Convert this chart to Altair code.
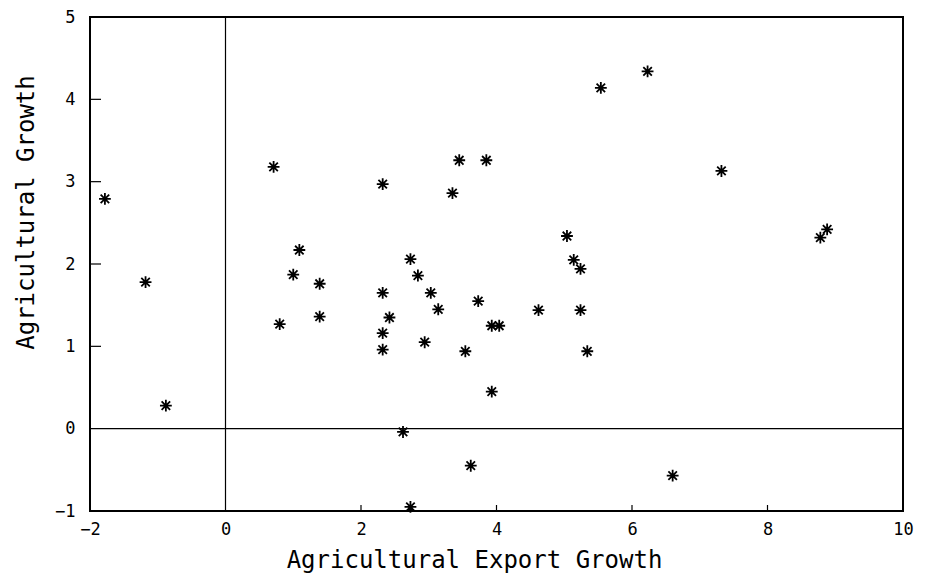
import altair as alt
import pandas as pd

# Data
export_growth = [-1.78, -1.18, -0.88, 0.71, 1.09, 1.00, 1.39, 1.39, 0.80,
                 2.32, 3.45, 3.85, 3.35, 2.73, 2.84, 2.32, 3.03, 3.14, 3.73,
                 2.42, 2.32, 2.32, 2.94, 3.54, 3.93, 4.04, 4.62, 3.93, 2.62,
                 3.62, 2.73, 5.04, 5.14, 5.24, 5.24, 5.34, 6.60, 5.54, 6.23,
                 7.32, 8.78, 8.88]
agri_growth = [2.79, 1.78, 0.28, 3.18, 2.17, 1.87, 1.76, 1.36, 1.27,
               2.97, 3.26, 3.26, 2.86, 2.06, 1.86, 1.65, 1.65, 1.45, 1.55,
               1.35, 1.16, 0.96, 1.05, 0.94, 1.25, 1.25, 1.44, 0.45, -0.04,
               -0.45, -0.95, 2.34, 2.05, 1.94, 1.44, 0.94, -0.57, 4.14, 4.34,
               3.13, 2.32, 2.42]

x_ticks = [-2, 0, 2, 4, 6, 8, 10]
y_ticks = [-1, 0, 1, 2, 3, 4, 5]
x_inner_ticks = [2, 4, 6, 8]
y_inner_ticks = [1, 2, 3, 4]
zero_line = [0]

df = pd.DataFrame({"x": export_growth, "y": agri_growth})

W, H = 813, 494
FONT = "DejaVu Sans Mono"

x_scale = alt.Scale(domain=[-2, 10], nice=False, zero=False)
y_scale = alt.Scale(domain=[-1, 5], nice=False, zero=False)

star = "M-1,0L1,0M0,-1L0,1M-0.72,-0.72L0.72,0.72M-0.72,0.72L0.72,-0.72"

points = alt.Chart(df).mark_point(
    shape=star, size=140, color="black", filled=False, opacity=1, strokeWidth=1.8
).encode(
    x=alt.X("x:Q", scale=x_scale,
            axis=alt.Axis(values=x_ticks, format="d",
                          title="Agricultural Export Growth",
                          titleX=384, titleY=56, titleBaseline="alphabetic",
                          titleAlign="center", labelPadding=10,
                          labelBaseline="top")),
    y=alt.Y("y:Q", scale=y_scale,
            axis=alt.Axis(values=y_ticks, format="d",
                          title="Agricultural Growth",
                          titleAngle=270, titleX=-57, titleY=195,
                          titleBaseline="alphabetic", titleAlign="center",
                          labelPadding=15)),
)

vline = alt.Chart(pd.DataFrame({"v": zero_line})).mark_rule(
    color="black", strokeWidth=1.2
).encode(x=alt.X("v:Q", scale=x_scale))

hline = alt.Chart(pd.DataFrame({"v": zero_line})).mark_rule(
    color="black", strokeWidth=1.2
).encode(y=alt.Y("v:Q", scale=y_scale))

xticks = alt.Chart(pd.DataFrame({"v": x_inner_ticks})).mark_rule(
    color="black", strokeWidth=1.2
).encode(x=alt.X("v:Q", scale=x_scale), y=alt.value(H), y2=alt.value(H - 6))

yticks = alt.Chart(pd.DataFrame({"v": y_inner_ticks})).mark_rule(
    color="black", strokeWidth=1.2
).encode(y=alt.Y("v:Q", scale=y_scale), x=alt.value(0), x2=alt.value(11))

chart = alt.layer(vline, hline, xticks, yticks, points).properties(
    width=W, height=H,
    autosize=alt.AutoSizeParams(type="none"),
    padding={"left": 82, "top": 9, "right": 15, "bottom": 64},
    background="white",
).configure_view(
    stroke="black", strokeWidth=2
).configure_axis(
    domain=False, ticks=False, grid=False,
    labelFont=FONT, labelFontSize=17, labelColor="black",
    titleFont=FONT, titleFontSize=24, titleFontWeight="normal",
    titleColor="black", labelFlush=False, labelOverlap=False,
)

chart.save("out.html", embed_options={"renderer": "svg", "actions": False})
